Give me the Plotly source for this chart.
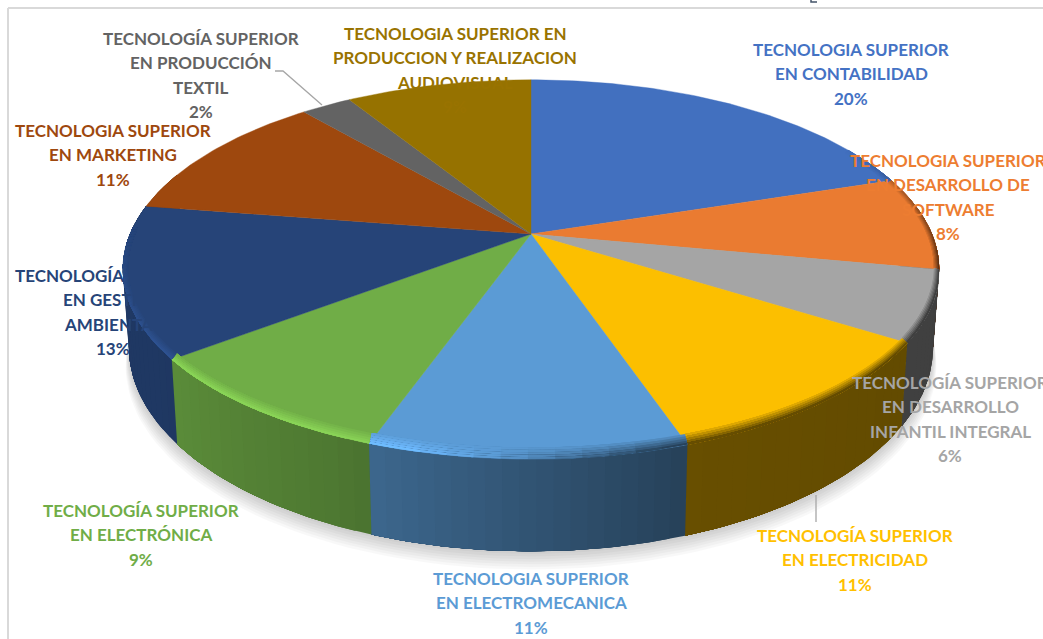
import numpy as np
import plotly.graph_objects as go

# ---- data ----
categories = [
    ["TECNOLOGIA SUPERIOR", "EN CONTABILIDAD"],
    ["TECNOLOGIA SUPERIOR", "EN DESARROLLO DE", "SOFTWARE"],
    ["TECNOLOGÍA SUPERIOR", "EN DESARROLLO", "INFANTIL INTEGRAL"],
    ["TECNOLOGÍA SUPERIOR", "EN ELECTRICIDAD"],
    ["TECNOLOGIA SUPERIOR", "EN ELECTROMECANICA"],
    ["TECNOLOGÍA SUPERIOR", "EN ELECTRÓNICA"],
    ["TECNOLOGÍA SUPERIOR", "EN GESTIÓN", "AMBIENTAL"],
    ["TECNOLOGIA SUPERIOR", "EN MARKETING"],
    ["TECNOLOGÍA SUPERIOR", "EN PRODUCCIÓN", "TEXTIL"],
    ["TECNOLOGIA SUPERIOR EN", "PRODUCCION Y REALIZACION", "AUDIOVISUAL"],
]
values = [20, 8, 6, 10.8, 10.6, 9.2, 12.9, 11.3, 2.4, 8.8]
colors = ["#4270BF", "#EA7B31", "#A5A5A5", "#FCBF00", "#5B9BD5",
          "#70AD47", "#264478", "#9E480E", "#636363", "#967200"]
label_colors = ["#4472C4", "#ED7D31", "#A5A5A5", "#FFC000", "#5B9BD5",
                "#70AD47", "#264478", "#9E480E", "#636363", "#997300"]
label_cx = [851, 948, 950, 855, 531, 141, 113, 113, 201, 455]
label_y0 = [49.3, 160.3, 382.3, 535.3, 578.3, 510.3, 275.3, 130.3, 38.3, 33.3]
LINE_H = 24.4

# ---- geometry of the tilted pie (pixels) ----
CX, CY, RX, RY, K, DEPTH = 531, 234, 401, 183, 0.187, 75
SHRINK = 0.985


def proj(theta_deg, r=1.0):
    t = np.radians(theta_deg)
    u, v = r * np.sin(t), r * np.cos(t)
    w = 1 + K * v
    return CX + RX * u / w, CY - RY * v / w


def proj_bottom(theta_deg):
    x, y = proj(theta_deg)
    t = np.radians(theta_deg)
    w = 1 + K * np.cos(t)
    return CX + (x - CX) * SHRINK, y + DEPTH / w


def rgb(h):
    return np.array([int(h[i:i + 2], 16) for i in (1, 3, 5)], float)


def css(c):
    c = np.clip(c, 0, 255)
    return "rgb(%d,%d,%d)" % tuple(c.round())


def wall_factor(th):
    return np.interp(th, [70, 100, 160, 205, 235, 290], [.30, .38, .41, .70, .82, .85])


def poly(fig, xs, ys, fill, lw=0.0):
    fig.add_trace(go.Scatter(x=list(xs), y=list(ys), mode="lines", fill="toself",
                             fillcolor=fill, hoverinfo="skip", showlegend=False,
                             line=dict(color=fill, width=lw)))


fig = go.Figure()
cum = np.concatenate([[0], np.cumsum(values)]) / np.sum(values) * 360.0

# soft shadow below the pie
arc = np.linspace(60, 300, 121)
bx, by = proj_bottom(arc)
for s in range(1, 8):
    poly(fig, CX + (bx - CX) * (1.0 + 0.0012 * s), by + 2.6 * s, "rgba(0,0,0,0.028)")

# side wall: every strip runs on to the end of its slice, so no seams show
for i, col in enumerate(colors):
    a0, a1 = max(cum[i], 70), min(cum[i + 1], 290)
    if a1 <= a0:
        continue
    n = max(2, int((a1 - a0) / 2) + 1)
    edges = np.linspace(a0, a1, n)
    for p, q in zip(edges[:-1], edges[1:]):
        th = np.linspace(p, a1, max(3, int(a1 - p) + 2))
        xt, yt = proj(th)
        xb, yb = proj_bottom(th[::-1])
        poly(fig, np.r_[xt, xb], np.r_[yt, yb], css(rgb(col) * wall_factor((p + q) / 2)))

# top faces
for i, col in enumerate(colors):
    th = np.linspace(cum[i], cum[i + 1], max(3, int(cum[i + 1] - cum[i]) + 2))
    x, y = proj(th)
    poly(fig, np.r_[CX, x, CX], np.r_[CY, y, CY], col, lw=0.4)

# bevelled rim: each band reaches out to the rim and each arc to the slice's end
bands = [0.958, 0.967, 0.976, 0.985, 0.993]
for i, col in enumerate(colors):
    a0, a1 = max(cum[i], 60), min(cum[i + 1], 272)
    if a1 <= a0:
        continue
    n = max(2, int((a1 - a0) / 3) + 1)
    edges = np.linspace(a0, a1, n)
    face = rgb(col)
    for b, r0 in enumerate(bands):
        for p, q in zip(edges[:-1], edges[1:]):
            m = (p + q) / 2
            fade = np.interp(m, [60, 100, 235, 270], [0, 1, 1, 0])
            light = np.interp(m, [165, 195], [0, 1])
            target = (1 - light) * face * wall_factor(m) + light * face * 1.22
            tt = (b + 1) / len(bands) * fade
            th = np.linspace(p, a1, max(3, int((a1 - p) / 2) + 2))
            x0, y0 = proj(th, r0)
            xr, _ = proj(th, 1.0)
            x0 = xr + (x0 - xr) * 0.3  # the bevel is thin sideways, deep towards the viewer
            x1, y1 = proj(th[::-1], 1.0)
            poly(fig, np.r_[x0, x1], np.r_[y0, y1], css(face * (1 - tt) + target * tt))

# labels: one annotation per text line
total = np.sum(values)
for i, lines in enumerate(categories):
    text_lines = lines + ["%d%%" % round(values[i] / total * 100)]
    for j, t in enumerate(text_lines):
        fig.add_annotation(x=label_cx[i], y=label_y0[i] + j * LINE_H, text=t,
                           showarrow=False, xanchor="center", yanchor="middle",
                           font=dict(family="Lato", size=17, color=label_colors[i],
                                     weight="bold"))

shapes = [
    # chart frame
    dict(type="line", x0=8, x1=1043, y0=8, y1=8, line=dict(color="#D9D9D9", width=2)),
    dict(type="line", x0=8, x1=8, y0=8, y1=639, line=dict(color="#D9D9D9", width=2)),
    # leader lines
    dict(type="path", path="M275,71 L283,71 L322,105", line=dict(color="#A6A6A6", width=1.3)),
    dict(type="line", x0=816, x1=816, y0=495, y1=522, line=dict(color="#A6A6A6", width=1.3)),
    # cropped title stroke at the top edge
    dict(type="path", path="M811,0 L811,2 L817,2", line=dict(color="#44546A", width=1.5)),
]

fig.update_layout(
    width=1043, height=639, margin=dict(l=0, r=0, t=0, b=0),
    paper_bgcolor="white", plot_bgcolor="white", showlegend=False, shapes=shapes,
    xaxis=dict(range=[0, 1043], visible=False, fixedrange=True),
    yaxis=dict(range=[639, 0], visible=False, fixedrange=True),
)
fig.write_html("out.html", config=dict(displayModeBar=False),
               post_script="document.body.style.margin='0';document.body.style.overflow='hidden';")
